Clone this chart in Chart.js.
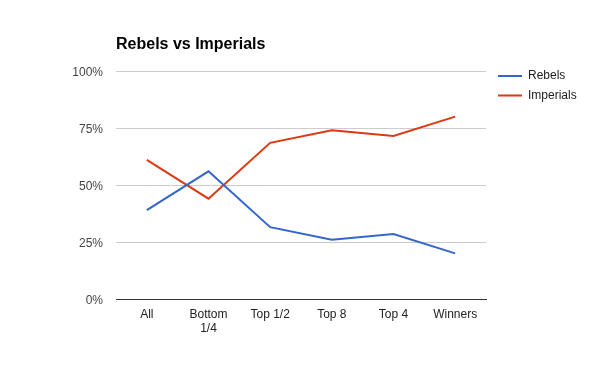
<!DOCTYPE html>
<html>
<head>
<meta charset="utf-8">
<script src="https://cdn.jsdelivr.net/npm/chart.js@4.4.0/dist/chart.umd.min.js"></script>
<style>
html,body{margin:0;padding:0;background:#fff;}
#wrap{width:600px;height:371px;position:relative;}
</style>
</head>
<body>
<div id="wrap"><canvas id="c" width="600" height="371"></canvas></div>
<script>
const chartTitle = "Rebels vs Imperials";
const categories = ["All", ["Bottom", "1/4"], "Top 1/2", "Top 8", "Top 4", "Winners"];
const rebels = [39, 56, 31.5, 26, 28.5, 20];
const imperials = [61, 44, 68.5, 74, 71.5, 80];
const seriesNames = ["Rebels", "Imperials"];
const seriesColors = ["#3366cc", "#dc3912"];
const yTicks = [0, 25, 50, 75, 100];

const FONT = "'Liberation Sans', Arial, sans-serif";

const overlay = {
  id: 'overlay',
  afterDraw(chart) {
    const ctx = chart.ctx;
    const ca = chart.chartArea;
    ctx.save();
    ctx.fillStyle = '#000';
    ctx.font = "bold 16px " + FONT;
    ctx.textBaseline = 'middle';
    ctx.textAlign = 'left';
    ctx.fillText(chartTitle, ca.left, 45);
    // legend
    ctx.font = "12px " + FONT;
    chart.data.datasets.forEach((ds, i) => {
      const y = 76 + i * 19.5;
      ctx.strokeStyle = ds.borderColor;
      ctx.lineWidth = 2;
      ctx.beginPath();
      ctx.moveTo(ca.right + 12, y);
      ctx.lineTo(ca.right + 36, y);
      ctx.stroke();
      ctx.fillStyle = '#222';
      ctx.fillText(ds.label, ca.right + 42, y);
    });
    ctx.restore();
  }
};

new Chart(document.getElementById('c'), {
  type: 'line',
  data: {
    labels: categories,
    datasets: [
      { label: seriesNames[0], data: rebels, borderColor: seriesColors[0], backgroundColor: seriesColors[0], borderWidth: 2, pointRadius: 0, tension: 0 },
      { label: seriesNames[1], data: imperials, borderColor: seriesColors[1], backgroundColor: seriesColors[1], borderWidth: 2, pointRadius: 0, tension: 0 }
    ]
  },
  options: {
    responsive: false,
    animation: false,
    layout: { padding: { left: 0, top: 71, right: 114, bottom: 0 } },
    plugins: {
      legend: { display: false },
      title: { display: false },
      tooltip: { enabled: false }
    },
    scales: {
      x: {
        offset: true,
        grid: { display: false, drawTicks: false },
        border: { display: true, color: '#333', width: 1 },
        ticks: { color: '#222', font: { family: FONT, size: 12 }, padding: 8, maxRotation: 0, autoSkip: false },
        afterFit(s) { s.height = 72; }
      },
      y: {
        min: 0, max: 100,
        afterBuildTicks(s) { s.ticks = yTicks.map(v => ({ value: v })); },
        grid: { color: (c) => c.tick && c.tick.value === 0 ? '#333' : '#cccccc', drawTicks: false, lineWidth: 1 },
        border: { display: false },
        ticks: { color: '#444', font: { family: FONT, size: 12 }, padding: 13, labelOffset: 1.5, callback: (v) => v + '%' },
        afterFit(s) { s.width = 116; }
      }
    }
  },
  plugins: [overlay]
});
</script>
</body>
</html>
